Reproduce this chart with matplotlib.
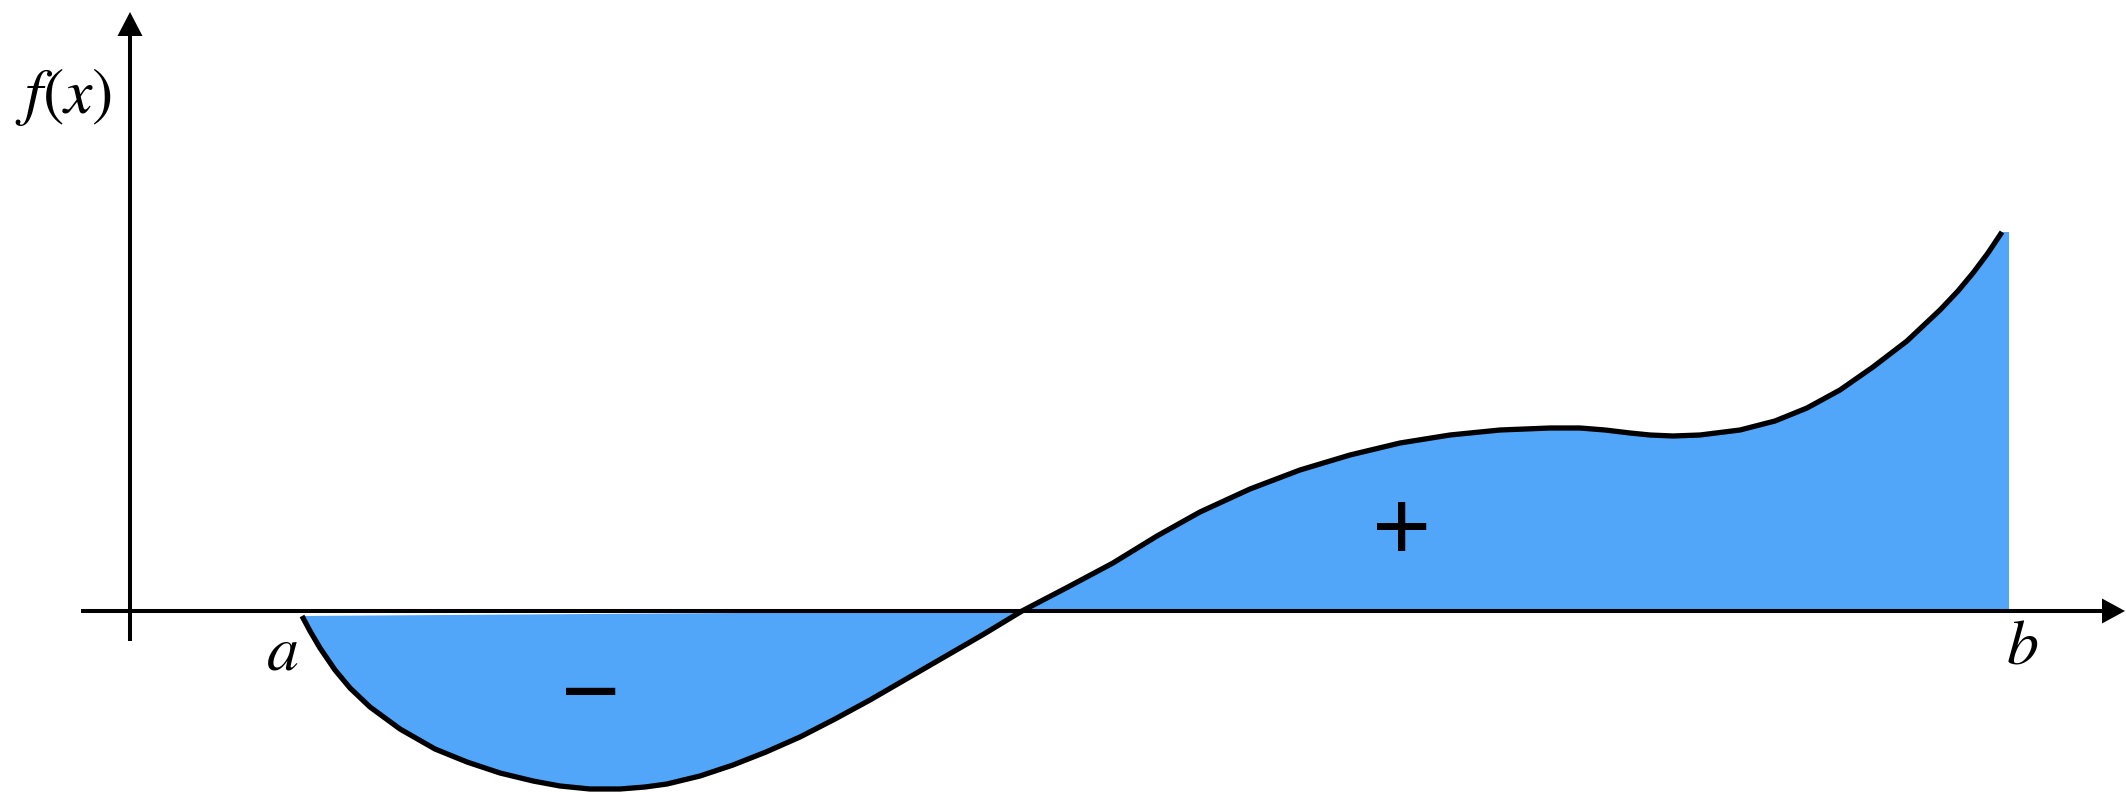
import matplotlib
matplotlib.use("Agg")
import matplotlib.pyplot as plt
from matplotlib.patches import Polygon

plt.rcParams['mathtext.fontset'] = 'stix'

# curve f(x) (data units: 1 unit = 100 px, origin at axes crossing)
curve_x = [1.72, 1.80, 1.90, 2.05, 2.20, 2.40, 2.70, 3.05, 3.37, 3.70, 4.03, 4.30,
           4.60, 4.90, 5.15, 5.37, 5.70, 6.03, 6.36, 6.70, 7.05, 7.40, 7.78, 8.16,
           8.54, 8.92, 9.38, 9.83, 10.27, 10.70, 11.20, 11.70, 12.20, 12.70, 13.20,
           13.70, 14.20, 14.50, 14.75, 15.00, 15.20, 15.43, 15.70, 16.10, 16.45,
           16.77, 17.10, 17.43, 17.77, 18.10, 18.28, 18.43, 18.58, 18.72]
curve_y = [-0.05, -0.20, -0.37, -0.59, -0.77, -0.96, -1.18, -1.38, -1.51, -1.62, -1.70, -1.75,
           -1.78, -1.78, -1.76, -1.73, -1.65, -1.54, -1.41, -1.26, -1.08, -0.89, -0.67, -0.45,
           -0.23, 0.0, 0.24, 0.48, 0.75, 0.99, 1.22, 1.41, 1.56, 1.68, 1.76,
           1.81, 1.83, 1.83, 1.81, 1.78, 1.76, 1.75, 1.76, 1.81, 1.90,
           2.03, 2.21, 2.44, 2.70, 3.01, 3.20, 3.38, 3.58, 3.79]
zero_index = 25          # where f crosses the x axis
b_edge = 18.79           # right edge of the shaded area

labels = {"a": "$a$", "b": "$b$", "f": "$f(x)$"}
signs = {"pos": "+", "neg": "\u2212"}

fill_color = "#51A6FA"

fig = plt.figure(figsize=(21.26, 7.92), dpi=100)
ax = fig.add_axes([0, 0, 1, 1])
ax.set_xlim(-1.30, 19.96)
ax.set_ylim(-1.81, 6.11)
ax.axis("off")

# negative part
neg_x = curve_x[:zero_index + 1]
neg_y = curve_y[:zero_index + 1]
ax.fill(neg_x, neg_y, color=fill_color, lw=0, zorder=1)
# positive part
pos_x = curve_x[zero_index:] + [b_edge, b_edge]
pos_y = curve_y[zero_index:] + [curve_y[-1], 0.0]
ax.fill(pos_x, pos_y, color=fill_color, lw=0, zorder=1)

# axes lines
ax.plot([-0.49, 19.75], [0, 0], color="black", lw=2.9, zorder=2, solid_capstyle="butt")
ax.plot([0, 0], [-0.30, 5.78], color="black", lw=2.9, zorder=2, solid_capstyle="butt")
ax.add_patch(Polygon([[19.72, 0.125], [19.95, 0.0], [19.72, -0.125]], closed=True,
                     color="black", lw=0, zorder=2))
ax.add_patch(Polygon([[-0.125, 5.75], [0.0, 5.99], [0.125, 5.75]], closed=True,
                     color="black", lw=0, zorder=2))

# curve
ax.plot(curve_x, curve_y, color="black", lw=3.8, zorder=3,
        solid_joinstyle="round", solid_capstyle="butt")

# labels
ax.text(1.52, -0.41, labels["a"], fontsize=46, ha="center", va="center", zorder=4)
ax.text(18.92, -0.34, labels["b"], fontsize=46, ha="center", va="center", zorder=4)
ax.text(-0.66, 5.14, labels["f"], fontsize=46, ha="center", va="center", zorder=4)
ax.text(12.72, 0.77, signs["pos"], fontsize=73, family="Liberation Sans",
        ha="center", va="center", zorder=4)
ax.text(4.61, -0.88, signs["neg"], fontsize=73, family="Liberation Sans",
        ha="center", va="center", zorder=4)

fig.savefig("out.png", dpi=100, facecolor="white")
